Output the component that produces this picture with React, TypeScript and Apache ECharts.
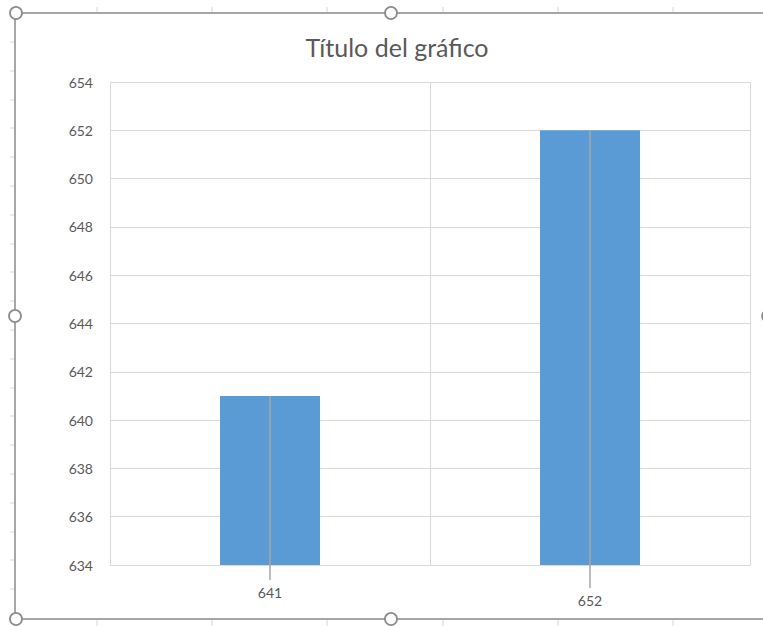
import React, { useEffect, useRef } from "react";
import * as echarts from "echarts";

const categories = ["641", "652"];
const values = [641, 652];
const yMin = 634;
const yMax = 654;
const yStep = 2;
const title = "Título del gráfico";

const FONT = "Lato, 'Open Sans', sans-serif";
const TEXT = "#595959";
const GRID = "#d9d9d9";

export default function App() {
  const ref = useRef<HTMLDivElement>(null);
  useEffect(() => {
    document.body.style.margin = "0";
    const chart = echarts.init(ref.current!, null, { renderer: "svg" });
    const lineExt = [15, 23];
    const colXs = [97, 212, 327, 443, 558, 673];
    const rowYs: number[] = [];
    for (let y = 42; y < 626; y += 28.8) rowYs.push(Math.round(y));
    const graphics: any[] = [];
    colXs.forEach((x) => {
      graphics.push({ type: "line", shape: { x1: x, y1: 7, x2: x, y2: 12 }, style: { stroke: "#d6d6d6", lineWidth: 1 }, z: 1 });
      graphics.push({ type: "line", shape: { x1: x, y1: 619, x2: x, y2: 626 }, style: { stroke: "#d6d6d6", lineWidth: 1 }, z: 1 });
    });
    rowYs.forEach((y) => {
      graphics.push({ type: "line", shape: { x1: 10, y1: y, x2: 15, y2: y }, style: { stroke: "#d6d6d6", lineWidth: 1 }, z: 1 });
    });
    graphics.push({ type: "line", shape: { x1: 15, y1: 13, x2: 763, y2: 13 }, style: { stroke: "#a6a6a6", lineWidth: 2 }, z: 2 });
    graphics.push({ type: "line", shape: { x1: 15, y1: 619, x2: 763, y2: 619 }, style: { stroke: "#a6a6a6", lineWidth: 2 }, z: 2 });
    graphics.push({ type: "line", shape: { x1: 15, y1: 13, x2: 15, y2: 619 }, style: { stroke: "#a6a6a6", lineWidth: 2 }, z: 2 });
    [[16, 13], [391, 13], [15, 316], [16, 619], [391, 619], [768, 316]].forEach(([cx, cy]) => {
      graphics.push({ type: "circle", shape: { cx, cy, r: 6 }, style: { fill: "#ffffff", stroke: "#8c8c8c", lineWidth: 1.8 }, z: 3 });
    });

    chart.setOption({
      animation: false,
      backgroundColor: "#ffffff",
      title: {
        text: title,
        left: 392,
        textAlign: "center",
        top: 29,
        textStyle: { fontFamily: FONT, fontSize: 25, fontWeight: "normal", color: TEXT },
      },
      grid: { left: 110, right: 13, top: 82, bottom: 61, containLabel: false },
      xAxis: {
        type: "category",
        data: categories,
        boundaryGap: true,
        axisLine: { show: true, lineStyle: { color: GRID, width: 1 } },
        axisTick: { show: false },
        splitLine: { show: true, lineStyle: { color: GRID, width: 1 } },
        axisLabel: {
          margin: 20,
          fontFamily: FONT,
          fontSize: 14,
          color: TEXT,
          formatter: (v: string, i: number) => (i === 1 ? `{b|${v}}` : `{a|${v}}`),
          rich: {
            a: { fontFamily: FONT, fontSize: 14, color: TEXT },
            b: { fontFamily: FONT, fontSize: 14, color: TEXT, padding: [8, 0, 0, 0] },
          },
        },
      },
      yAxis: {
        type: "value",
        min: yMin,
        max: yMax,
        interval: yStep,
        axisLine: { show: false },
        axisTick: { show: false },
        splitLine: { show: true, lineStyle: { color: GRID, width: 1 } },
        axisLabel: { margin: 17, fontFamily: FONT, fontSize: 14, color: TEXT },
      },
      series: [
        {
          type: "bar",
          data: values,
          barWidth: 100,
          itemStyle: { color: "#5b9bd5" },
          z: 2,
        },
        {
          type: "custom",
          data: values.map((v, i) => [i, v]),
          z: 3,
          renderItem: (params: any, api: any) => {
            const i = api.value(0);
            const top = api.coord([i, api.value(1)]);
            const base = api.coord([i, yMin]);
            return {
              type: "line",
              shape: { x1: top[0], y1: top[1], x2: base[0], y2: base[1] + lineExt[params.dataIndex] },
              style: { stroke: "#a6a6a6", lineWidth: 1.5 },
            };
          },
        },
      ],
      graphic: graphics,
    });
    return () => chart.dispose();
  }, []);
  return <div ref={ref} style={{ width: 763, height: 626 }} />;
}
